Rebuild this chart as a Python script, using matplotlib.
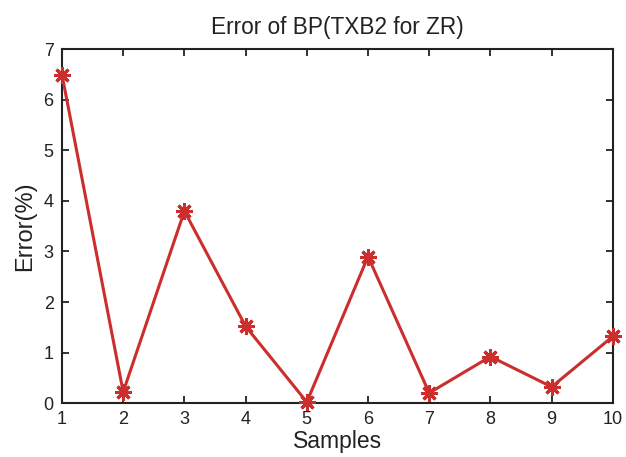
import matplotlib
matplotlib.use('Agg')
import matplotlib.pyplot as plt

plt.rcParams['font.family'] = ['Liberation Sans', 'DejaVu Sans']

# данные: ошибка по образцам
samples = [1, 2, 3, 4, 5, 6, 7, 8, 9, 10]
error = [6.5, 0.22, 3.8, 1.52, 0.02, 2.9, 0.2, 0.92, 0.32, 1.32]
yticks = [0, 1, 2, 3, 4, 5, 6, 7]

fig = plt.figure(figsize=(6.26, 4.57), dpi=100)
ax = fig.add_axes([0.099, 0.118, 0.88, 0.774])

ax.plot(samples, error, color='#cc2e2e', linewidth=2.2,
        marker=(8, 2, 0), markersize=12, markeredgewidth=2.2,
        markeredgecolor='#cc2e2e', clip_on=False, zorder=3)

ax.set_xlim(1, 10)
ax.set_ylim(0, 7)
ax.set_xticks(samples)
ax.set_yticks(yticks)
ax.tick_params(direction='in', top=True, right=True, length=5, width=1.3,
               labelsize=13, pad=6, colors='#222222')
for s in ax.spines.values():
    s.set_linewidth(1.5)
    s.set_color('#222222')

ax.set_title('Error of BP(TXB2 for ZR)', fontsize=16.3, pad=11, color='#222222')
ax.set_xlabel('Samples', fontsize=16.5, labelpad=1, color='#222222')
ax.set_ylabel('Error(%)', fontsize=17, labelpad=5, color='#222222')

fig.savefig('out.png', dpi=100)
